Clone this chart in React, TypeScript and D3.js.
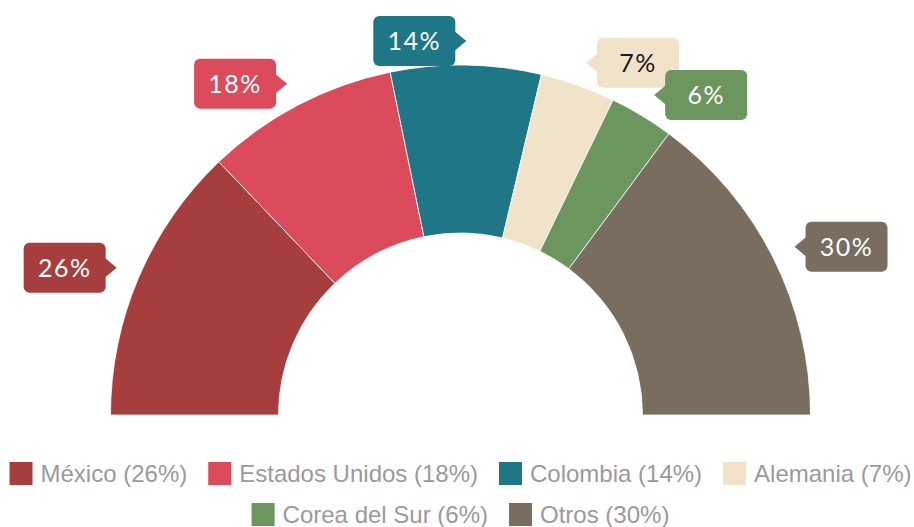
import * as d3 from 'd3';
import React from 'react';
import { useEffect, useRef } from 'react';

const countries = ['México', 'Estados Unidos', 'Colombia', 'Alemania', 'Corea del Sur', 'Otros'];
const shares = [26, 18, 14, 7, 6, 30];
const sliceColors = ['#a53e3d', '#db4b5b', '#1f7686', '#f1e3c9', '#6b965e', '#786d5f'];
const labelTextColors = ['#ffffff', '#ffffff', '#ffffff', '#1a1a1a', '#ffffff', '#ffffff'];

const WIDTH = 914;
const HEIGHT = 527;

const App = () => {
    const svgRef = useRef(null);

    useEffect(() => {
        document.body.style.margin = '0';
        const svg = d3.select(svgRef.current);
        svg.selectAll('*').remove();

        const cx = 460.5;
        const cy = 415;
        const outerRadius = 350;
        const innerRadius = 182;

        const data = countries.map((name, i) => ({
            name,
            value: shares[i],
            color: sliceColors[i],
            textColor: labelTextColors[i]
        }));

        const pie = d3.pie()
            .value(d => d.value)
            .sort(null)
            .startAngle(-Math.PI / 2)
            .endAngle(Math.PI / 2);
        const arc = d3.arc().innerRadius(innerRadius).outerRadius(outerRadius);
        const arcs = pie(data);

        const chart = svg.append('g').attr('transform', 'translate(' + cx + ',' + cy + ')');

        chart.selectAll('path.slice')
            .data(arcs)
            .join('path')
            .attr('class', 'slice')
            .attr('d', arc)
            .attr('fill', d => d.data.color)
            .attr('stroke', '#ffffff')
            .attr('stroke-width', 0.8);

        // callout labels: box with a small arrow pointing at the slice
        const tipRadius = 374;
        const boxW = 82;
        const boxH = 50;
        const arrowW = 11;
        const arrowH = 20;

        arcs.forEach(a => {
            const mid = (a.startAngle + a.endAngle) / 2;
            const tx = Math.sin(mid) * tipRadius;
            const ty = -Math.cos(mid) * tipRadius;
            const onLeft = mid < 0.05;
            const boxX = onLeft ? tx - arrowW - boxW : tx + arrowW;
            const label = chart.append('g');

            const arrowBase = onLeft ? tx - arrowW - 1 : tx + arrowW + 1;
            label.append('path')
                .attr('d', 'M' + tx + ',' + ty
                    + 'L' + arrowBase + ',' + (ty - arrowH / 2)
                    + 'L' + arrowBase + ',' + (ty + arrowH / 2) + 'Z')
                .attr('fill', a.data.color);

            label.append('rect')
                .attr('x', boxX)
                .attr('y', ty - boxH / 2)
                .attr('width', boxW)
                .attr('height', boxH)
                .attr('rx', 6)
                .attr('fill', a.data.color);

            label.append('text')
                .attr('x', boxX + boxW / 2)
                .attr('y', ty)
                .attr('dy', '0.36em')
                .attr('text-anchor', 'middle')
                .attr('font-family', 'Lato, "Open Sans", sans-serif')
                .attr('font-size', 25)
                .attr('letter-spacing', 1.5)
                .attr('fill', a.data.textColor)
                .text(a.data.value + '%');
        });

        // legend, centered rows
        const legend = svg.append('g');
        const swatch = 23;
        const swatchGap = 8;
        const itemGap = 21;
        const maxRowWidth = 906;
        const rowY = [473.5, 514.5];

        const items = data.map(d => {
            const item = legend.append('g');
            item.append('rect')
                .attr('width', swatch)
                .attr('height', swatch)
                .attr('y', -swatch / 2)
                .attr('fill', d.color);
            const text = item.append('text')
                .attr('x', swatch + swatchGap)
                .attr('dy', '0.35em')
                .attr('font-family', '"Liberation Sans", Arial, sans-serif')
                .attr('font-size', 24)
                .attr('fill', '#9a9a9a')
                .text(d.name + ' (' + d.value + '%)');
            const w = swatch + swatchGap + text.node().getComputedTextLength();
            return { item, w };
        });

        const rows = [];
        let current = [];
        let currentW = 0;
        items.forEach(it => {
            const extra = current.length ? itemGap + it.w : it.w;
            if (current.length && currentW + extra > maxRowWidth) {
                rows.push({ list: current, w: currentW });
                current = [it];
                currentW = it.w;
            } else {
                current.push(it);
                currentW += extra;
            }
        });
        if (current.length) rows.push({ list: current, w: currentW });

        rows.forEach((row, r) => {
            let x = cx - row.w / 2;
            const y = rowY[r] !== undefined ? rowY[r] : rowY[0] + r * 41;
            row.list.forEach(it => {
                it.item.attr('transform', 'translate(' + x + ',' + y + ')');
                x += it.w + itemGap;
            });
        });
    }, []);

    return (
        <svg ref={svgRef} width={WIDTH} height={HEIGHT} style={{ display: 'block', background: '#ffffff' }} />
    );
};

export default App;
